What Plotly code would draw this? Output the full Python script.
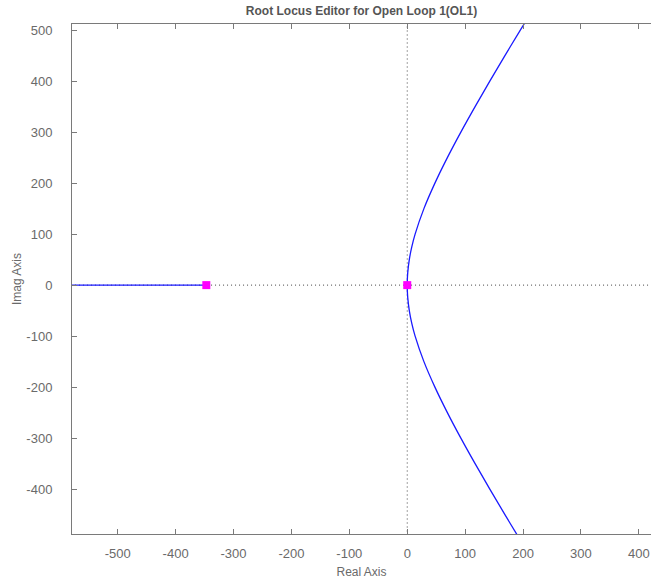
import plotly.graph_objects as go

# Open-loop poles (real, imag)
pole_re = [0.0, -347.0]
pole_im = [0.0, 0.0]

# Upper branch of the locus leaving the double pole at the origin
branch_im = [0, 10, 25, 50, 75, 100, 150, 200, 250, 300, 350, 400, 450, 500, 515]
branch_re = [0.0, 0.14, 0.9, 3.55, 7.84, 13.6, 28.8, 47.8, 69.3, 92.6, 117.2, 142.6, 168.7, 195.3, 203.4]

# Real-axis branch running from the pole at -347 toward -infinity
real_branch_re = [-347.0, -600.0]
real_branch_im = [0.0, 0.0]

x_range = [-579, 421]
y_range = [-488, 512]
x_ticks = [-500, -400, -300, -200, -100, 0, 100, 200, 300, 400]
x_labels = ["-500", "-400", "-300", "-200", "-100", "0", "100", "200", "300", "400"]
y_ticks = [-400, -300, -200, -100, 0, 100, 200, 300, 400, 500]
y_labels = ["-400", "-300", "-200", "-100", "0", "100", "200", "300", "400", "500"]

locus_color = "#1a1aff"
pole_color = "#ff00ff"
axis_color = "#7a7a7a"
text_color = "#6a6a6a"
font_family = "Liberation Sans, Arial, sans-serif"

fig = go.Figure()

# dotted reference lines through the origin
fig.add_trace(go.Scatter(x=[x_range[0] - 50, x_range[1] + 50], y=[0, 0], mode="lines",
                         line=dict(color="#444444", width=1, dash="1px,3px"),
                         hoverinfo="skip", showlegend=False))
fig.add_trace(go.Scatter(x=[0, 0], y=[y_range[0] - 50, y_range[1] + 50], mode="lines",
                         line=dict(color="#444444", width=1, dash="1px,3px"),
                         hoverinfo="skip", showlegend=False))

# upper and lower complex branches (mirror image about the real axis)
fig.add_trace(go.Scatter(x=branch_re, y=branch_im, mode="lines", line_shape="spline",
                         line=dict(color=locus_color, width=1.3), showlegend=False))
fig.add_trace(go.Scatter(x=branch_re, y=[-v for v in branch_im], mode="lines", line_shape="spline",
                         line=dict(color=locus_color, width=1.3), showlegend=False))
fig.add_trace(go.Scatter(x=real_branch_re, y=real_branch_im, mode="lines",
                         line=dict(color=locus_color, width=1.3), showlegend=False))

# poles
fig.add_trace(go.Scatter(x=pole_re, y=pole_im, mode="markers",
                         marker=dict(symbol="square", size=8, color=pole_color),
                         showlegend=False))

tick_style = dict(ticks="inside", ticklen=5, tickcolor=axis_color, tickwidth=1)
label_font = dict(family=font_family, size=13, color=text_color)
title_font = dict(family=font_family, size=12, color=text_color)

fig.update_layout(
    width=651, height=582,
    margin=dict(l=72, r=0, t=24, b=48),
    plot_bgcolor="white", paper_bgcolor="white",
    title=dict(text="<b>Root Locus Editor for Open Loop 1(OL1)</b>",
               x=0.5553, xanchor="center", y=0.982, yanchor="middle",
               font=dict(family=font_family, size=12, color="#555555")),
    xaxis=dict(range=x_range, tickvals=x_ticks, ticktext=x_labels,
               showgrid=False, zeroline=False, showline=True, linecolor=axis_color,
               linewidth=1, mirror="ticks", tickfont=label_font, ticklabelstandoff=7,
               title=dict(text="Real Axis", font=title_font, standoff=8), **tick_style),
    yaxis=dict(range=y_range, tickvals=y_ticks, ticktext=y_labels,
               showgrid=False, zeroline=False, showline=True, linecolor=axis_color,
               linewidth=1, mirror=False, tickfont=label_font, ticklabelstandoff=16,
               title=dict(text="Imag Axis", font=title_font, standoff=2), **tick_style),
    # right-hand ticks without a drawn spine
    yaxis2=dict(range=y_range, tickvals=y_ticks, overlaying="y", side="right",
                matches="y", showgrid=False, zeroline=False, showline=False,
                showticklabels=False, **tick_style),
)

fig.write_html("out.html")
